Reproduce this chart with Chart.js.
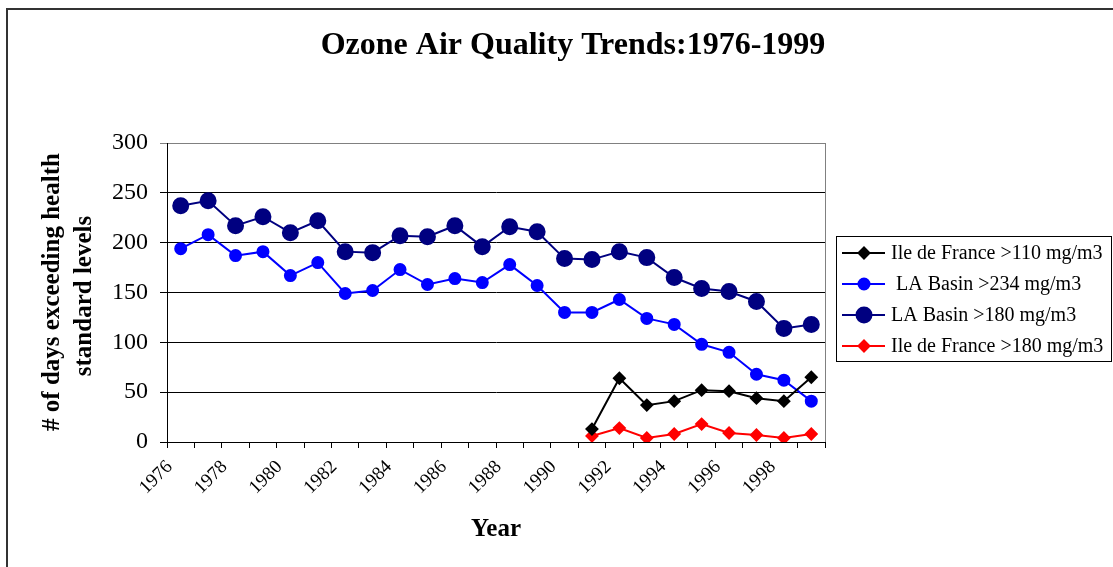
<!DOCTYPE html>
<html>
<head>
<meta charset="utf-8">
<script src="https://cdn.jsdelivr.net/npm/chart.js@4"></script>
<style>
  body { margin: 0; background: #fff; overflow: hidden; }
  canvas { display: block; }
</style>
</head>
<body>
<canvas id="ozoneChart" width="1113" height="567"></canvas>
<script>
// chart data
var years = ['1976', '1977', '1978', '1979', '1980', '1981', '1982', '1983', '1984', '1985', '1986', '1987',
             '1988', '1989', '1990', '1991', '1992', '1993', '1994', '1995', '1996', '1997', '1998', '1999'];
var idf110 = [null, null, null, null, null, null, null, null, null, null, null, null,
              null, null, null, 13, 64, 37, 41, 52, 51, 44, 41, 65];
var la234 = [194, 208, 187, 191, 167, 180, 149, 152, 173, 158, 164, 160,
             178, 157, 130, 130, 143, 124, 118, 98, 90, 68, 62, 41];
var la180 = [237, 242, 217, 226, 210, 222, 191, 190, 207, 206, 217, 196,
             216, 211, 184, 183, 191, 185, 165, 154, 151, 141, 114, 118];
var idf180 = [null, null, null, null, null, null, null, null, null, null, null, null,
              null, null, null, 6, 14, 4, 8, 18, 9, 7, 4, 8];
var seriesNames = ['Ile de France >110 mg/m3', ' LA Basin >234 mg/m3', 'LA Basin >180 mg/m3', 'Ile de France >180 mg/m3'];
var yTicks = [0, 50, 100, 150, 200, 250, 300];

var chartTitle = 'Ozone Air Quality Trends:1976-1999';
var yTitle = ['# of days exceeding health', 'standard levels'];
var xTitle = 'Year';

var serif = "'Liberation Serif', 'Times New Roman', serif";

// titles, outer frame and the boxed legend
var decorations = {
  id: 'decorations',
  beforeDraw: function(chart) {
    var ctx = chart.ctx, a = chart.chartArea;
    ctx.save();
    ctx.strokeStyle = '#808080';
    ctx.lineWidth = 1;
    ctx.strokeRect(a.left + 0.5, a.top + 0.5, a.right - a.left, a.bottom - a.top);
    ctx.restore();
  },
  afterDraw: function(chart) {
    var ctx = chart.ctx;
    ctx.save();
    // frame
    ctx.strokeStyle = '#333';
    ctx.lineWidth = 2;
    ctx.beginPath();
    ctx.moveTo(7, 568);
    ctx.lineTo(7, 9);
    ctx.lineTo(1113, 9);
    ctx.stroke();

    ctx.fillStyle = '#000';
    ctx.textAlign = 'center';
    ctx.textBaseline = 'middle';
    ctx.font = 'bold 32px ' + serif;
    ctx.fillText(chartTitle, 573, 46);

    ctx.font = 'bold 25px ' + serif;
    ctx.fillText(xTitle, 496, 530);

    ctx.save();
    ctx.translate(53, 292);
    ctx.rotate(-Math.PI / 2);
    ctx.font = 'bold 25px ' + serif;
    ctx.fillText(yTitle[0], 0, 0);
    ctx.fillText(yTitle[1], -4, 32);
    ctx.restore();

    // legend
    ctx.fillStyle = '#fff';
    ctx.fillRect(836, 236, 276, 126);
    ctx.strokeStyle = '#000';
    ctx.lineWidth = 1;
    ctx.strokeRect(836.5, 236.5, 275, 125);
    ctx.font = '20px ' + serif;
    ctx.textAlign = 'left';
    chart.data.datasets.forEach(function(ds, i) {
      var y = 253 + i * 31;
      ctx.strokeStyle = ds.borderColor;
      ctx.lineWidth = 2;
      ctx.beginPath();
      ctx.moveTo(842, y);
      ctx.lineTo(885, y);
      ctx.stroke();
      Chart.helpers.drawPoint(ctx, {
        pointStyle: ds.pointStyle, radius: ds.pointRadius, rotation: 0, borderWidth: 1
      }, 864, y);
      ctx.fillStyle = ds.borderColor;
      ctx.fill();
      ctx.fillStyle = '#000';
      ctx.fillText(ds.label, 891, y + 1);
    });
    ctx.restore();
  }
};

function series(label, data, color, style, radius) {
  return {
    label: label,
    data: data,
    borderColor: color,
    backgroundColor: color,
    pointBackgroundColor: color,
    pointBorderColor: color,
    borderWidth: 2,
    pointStyle: style,
    pointRadius: radius,
    pointHoverRadius: radius,
    spanGaps: false,
    tension: 0
  };
}

var ctx = document.getElementById('ozoneChart');
var myChart = new Chart(ctx, {
  type: 'line',
  data: {
    labels: years,
    datasets: [
      series(seriesNames[0], idf110, '#000000', 'rectRot', 5.5),
      series(seriesNames[1], la234, '#0000ff', 'circle', 5.5),
      series(seriesNames[2], la180, '#000080', 'circle', 7.5),
      series(seriesNames[3], idf180, '#ff0000', 'rectRot', 5.5)
    ]
  },
  options: {
    responsive: false,
    animation: false,
    layout: { padding: { left: 0, top: 143, right: 288, bottom: 0 } },
    plugins: {
      legend: { display: false },
      title: { display: false },
      tooltip: { enabled: false }
    },
    scales: {
      x: {
        offset: true,
        afterFit: function(scale) { scale.height = 125; },
        grid: { offset: true, drawOnChartArea: false, drawTicks: true, tickLength: 6, color: '#000' },
        border: { color: '#000', width: 1 },
        ticks: {
          autoSkip: false,
          maxRotation: 45,
          minRotation: 45,
          padding: 8,
          labelOffset: -11,
          color: '#000',
          font: { family: serif, size: 19 },
          callback: function(val, idx) { return idx % 2 === 0 ? years[idx] : ''; }
        }
      },
      y: {
        min: 0,
        max: 300,
        afterFit: function(scale) { scale.width = 167; },
        afterBuildTicks: function(scale) {
          scale.ticks = yTicks.map(function(v) { return { value: v }; });
        },
        grid: {
          color: function(c) { return c.tick && c.tick.value === 300 ? '#808080' : '#000'; },
          tickLength: 7,
          lineWidth: 1
        },
        border: { color: '#000', width: 1 },
        ticks: {
          padding: 12,
          color: '#000',
          font: { family: serif, size: 24 }
        }
      }
    }
  },
  plugins: [decorations]
});
</script>
</body>
</html>
